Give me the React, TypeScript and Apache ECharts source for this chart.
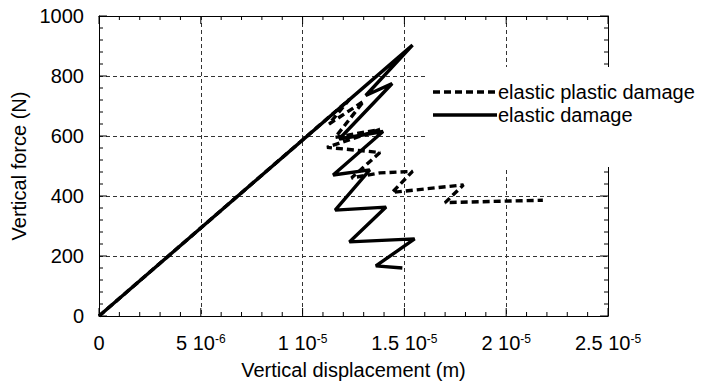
import React, { useEffect, useRef } from "react";
import * as echarts from "echarts";

// x values in units of 1e-6 m, y in N
const elasticPlasticDamage: [number, number][] = [
  [0, 0], [12.3, 722], [11.3, 640], [13.0, 716], [11.6, 595], [13.8, 622],
  [11.2, 562], [13.8, 545], [12.4, 460], [13.8, 477], [15.4, 482], [14.4, 412],
  [17.9, 437], [17.0, 378], [21.8, 386],
];
const elasticDamage: [number, number][] = [
  [0, 0], [15.4, 903], [13.1, 735], [14.4, 775], [11.8, 590], [13.95, 615],
  [11.5, 470], [13.3, 487], [11.6, 353], [14.1, 363], [12.3, 247], [15.5, 257],
  [13.6, 167], [14.9, 160],
];
const seriesNames = ["elastic plastic damage", "elastic damage"];
const xTicks = [0, 5, 10, 15, 20, 25];
const yTicks = [0, 200, 400, 600, 800, 1000];
const MINOR_PER_MAJOR = 5;

const FONT = "Liberation Sans";
const FS = 20;

function xLabel(v: number): string {
  if (v === 0) return "0";
  if (v < 10) return `${v} 10{sup|-6}`;
  return `${v / 10} 10{sup|-5}`;
}

// tick marks (value, axis kind 0=x 1=y, major flag), derived from the tick arrays
function buildTicks(): number[][] {
  const out: number[][] = [];
  const add = (ticks: number[], kind: number) => {
    for (let i = 0; i < ticks.length; i++) {
      out.push([ticks[i], kind, 1]);
      if (i < ticks.length - 1) {
        const step = (ticks[i + 1] - ticks[i]) / MINOR_PER_MAJOR;
        for (let k = 1; k < MINOR_PER_MAJOR; k++) out.push([ticks[i] + k * step, kind, 0]);
      }
    }
  };
  add(xTicks, 0);
  add(yTicks, 1);
  return out;
}

export default function App() {
  const ref = useRef<HTMLDivElement>(null);
  useEffect(() => {
    if (!ref.current) return;
    const chart = echarts.init(ref.current, undefined, { renderer: "svg" });
    const grid = { left: 99, right: 98, top: 16, bottom: 73 };
    const xMin = xTicks[0], xMax = xTicks[xTicks.length - 1];
    const yMin = yTicks[0], yMax = yTicks[yTicks.length - 1];
    const mkLine = () => ({ show: true, onZero: false, lineStyle: { color: "#000", width: 1 } });
    const mkSplit = () => ({ show: true, lineStyle: { color: "#333", width: 1, type: [4, 3] as any } });
    const legendX = 433;
    const legendW = 64;
    const legendY = [92, 115];
    chart.setOption({
      animation: false,
      backgroundColor: "#fff",
      grid,
      xAxis: [
        {
          type: "value",
          min: xMin,
          max: xMax,
          interval: 5,
          axisLine: mkLine(),
          axisTick: { show: false },
          splitLine: mkSplit(),
          axisLabel: {
            show: true,
            margin: 17,
            formatter: xLabel,
            color: "#000",
            fontFamily: FONT,
            fontSize: FS,
            rich: {
              sup: { fontSize: 12, fontFamily: FONT, color: "#000", verticalAlign: "top", lineHeight: 12, padding: [0, 0, 10, 0] },
            },
          },
          name: "Vertical displacement (m)",
          nameLocation: "middle",
          nameGap: 44,
          nameTextStyle: { color: "#000", fontFamily: FONT, fontSize: FS },
        },
        {
          type: "value",
          position: "top",
          min: xMin,
          max: xMax,
          interval: 5,
          axisLine: mkLine(),
          axisTick: { show: false },
          splitLine: { show: false },
          axisLabel: { show: false },
        },
      ],
      yAxis: [
        {
          type: "value",
          min: yMin,
          max: yMax,
          interval: 200,
          axisLine: mkLine(),
          axisTick: { show: false },
          splitLine: mkSplit(),
          axisLabel: { show: true, margin: 15, color: "#000", fontFamily: FONT, fontSize: FS, formatter: (v: number) => String(v) },
          name: "Vertical force (N)",
          nameLocation: "middle",
          nameGap: 54,
          nameTextStyle: { color: "#000", fontFamily: FONT, fontSize: FS },
        },
        {
          type: "value",
          position: "right",
          min: yMin,
          max: yMax,
          interval: 200,
          axisLine: mkLine(),
          axisTick: { show: false },
          splitLine: { show: false },
          axisLabel: { show: false },
        },
      ],
      graphic: [
        { type: "rect", shape: { x: 428, y: 67, width: 278, height: 100 }, style: { fill: "#fff" }, z: 10 },
        {
          type: "line", z: 11,
          shape: { x1: legendX, y1: legendY[0], x2: legendX + legendW, y2: legendY[0] },
          style: { stroke: "#000", lineWidth: 3.4, lineDash: [7, 4] },
        },
        {
          type: "line", z: 11,
          shape: { x1: legendX, y1: legendY[1], x2: legendX + legendW, y2: legendY[1] },
          style: { stroke: "#000", lineWidth: 3.4 },
        },
        {
          type: "text", z: 11, x: legendX + legendW + 1, y: legendY[0],
          style: { text: seriesNames[0], fill: "#000", font: `${FS}px "${FONT}"`, verticalAlign: "middle" },
        },
        {
          type: "text", z: 11, x: legendX + legendW + 1, y: legendY[1],
          style: { text: seriesNames[1], fill: "#000", font: `${FS}px "${FONT}"`, verticalAlign: "middle" },
        },
      ],
      series: [
        {
          type: "custom",
          xAxisIndex: 0,
          yAxisIndex: 0,
          silent: true,
          clip: false,
          z: 3,
          encode: { x: -1, y: -1 },
          data: buildTicks(),
          renderItem: (_params: any, api: any) => {
            const v = api.value(0);
            const kind = api.value(1);
            const len = api.value(2) ? 8 : 4;
            const style = { stroke: "#000", lineWidth: 1 };
            if (kind === 0) {
              const b = api.coord([v, yMin]);
              const t = api.coord([v, yMax]);
              return {
                type: "group",
                children: [
                  { type: "line", shape: { x1: b[0], y1: b[1], x2: b[0], y2: b[1] - len }, style },
                  { type: "line", shape: { x1: t[0], y1: t[1], x2: t[0], y2: t[1] + len }, style },
                ],
              };
            }
            const l = api.coord([xMin, v]);
            const r = api.coord([xMax, v]);
            return {
              type: "group",
              children: [
                { type: "line", shape: { x1: l[0], y1: l[1], x2: l[0] + len, y2: l[1] }, style },
                { type: "line", shape: { x1: r[0], y1: r[1], x2: r[0] - len, y2: r[1] }, style },
              ],
            };
          },
        },
        {
          name: seriesNames[0],
          type: "line",
          xAxisIndex: 0,
          yAxisIndex: 0,
          z: 4,
          data: elasticPlasticDamage,
          symbol: "none",
          showSymbol: false,
          lineStyle: { color: "#000", width: 3.4, type: [7, 4] },
          itemStyle: { color: "#000" },
        },
        {
          name: seriesNames[1],
          type: "line",
          xAxisIndex: 0,
          yAxisIndex: 0,
          z: 5,
          data: elasticDamage,
          symbol: "none",
          showSymbol: false,
          lineStyle: { color: "#000", width: 3.4, type: "solid" },
          itemStyle: { color: "#000" },
        },
      ],
    });
    return () => chart.dispose();
  }, []);
  return <div ref={ref} style={{ position: "fixed", left: 0, top: 0, width: 706, height: 389 }} />;
}
